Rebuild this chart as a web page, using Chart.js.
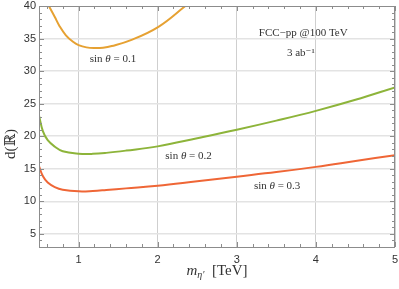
<!DOCTYPE html>
<html>
<head>
<meta charset="utf-8">
<script src="https://cdn.jsdelivr.net/npm/chart.js"></script>
<style>
  html, body { margin: 0; padding: 0; background: #fff; }
  canvas { display: block; }
</style>
</head>
<body>
<canvas id="chart" width="399" height="289"></canvas>
<script>
// values (x = m_eta' in TeV, y = d(R))
const massA = [0.60, 0.625, 0.70, 0.76, 0.84, 0.93, 1.00, 1.10, 1.20, 1.31, 1.42, 1.67, 2.01, 2.35, 2.40];
const distA = [40.6, 40.0, 38.3, 36.9, 35.5, 34.5, 34.0, 33.65, 33.55, 33.6, 33.85, 34.8, 36.8, 40.0, 40.5];

const massB = [0.50, 0.55, 0.61, 0.70, 0.80, 1.00, 1.18, 1.35, 1.60, 2.00, 2.50, 3.00, 3.50, 4.00, 4.50, 5.00];
const distB = [23.2, 20.75, 19.4, 18.4, 17.7, 17.33, 17.3, 17.45, 17.8, 18.45, 19.7, 21.0, 22.4, 23.9, 25.6, 27.5];

const massC = [0.50, 0.55, 0.61, 0.70, 0.80, 1.00, 1.18, 1.35, 1.60, 2.00, 2.50, 3.00, 3.50, 4.00, 4.50, 5.00];
const distC = [15.4, 13.85, 12.9, 12.2, 11.8, 11.55, 11.6, 11.75, 12.0, 12.4, 13.1, 13.8, 14.5, 15.3, 16.2, 17.1];

const seriesNames = ['sinθ = 0.1', 'sinθ = 0.2', 'sinθ = 0.3'];
const xTicks = [1, 2, 3, 4, 5];
const yTicks = [5, 10, 15, 20, 25, 30, 35, 40];

// in-plot labels, anchored in data units
const notes = [
  { runs: [['sin ', ''], ['θ', 'italic '], [' = 0.1', '']], x: 1.435, y: 31.9 },
  { runs: [['sin ', ''], ['θ', 'italic '], [' = 0.2', '']], x: 2.39, y: 17.0 },
  { runs: [['sin ', ''], ['θ', 'italic '], [' = 0.3', '']], x: 3.51, y: 12.3 },
  { runs: [['FCC−pp @100 TeV', '']], x: 3.84, y: 35.9 },
  { runs: [['3 ab⁻¹', '']], x: 3.81, y: 32.8 }
];

const SERIF = "'Liberation Serif', 'DejaVu Serif', serif";

function pts(xs, ys){
  return xs.map((x, i) => ({ x: x, y: ys[i] }));
}

function drawRuns(ctx, runs, cx, cy, size){
  let total = 0;
  runs.forEach(r => { ctx.font = r[1] + size + 'px ' + SERIF; total += ctx.measureText(r[0]).width; });
  let x = cx - total / 2;
  ctx.textBaseline = 'middle';
  ctx.textAlign = 'left';
  runs.forEach(r => {
    ctx.font = r[1] + size + 'px ' + SERIF;
    ctx.fillText(r[0], x, cy);
    x += ctx.measureText(r[0]).width;
  });
}

// frame, inward ticks on all four sides, notes and axis titles
const decorations = {
  id: 'decorations',
  afterDatasetsDraw(chart){
    const ctx = chart.ctx;
    const a = chart.chartArea;
    const xs = chart.scales.x, ys = chart.scales.y;
    ctx.save();
    ctx.strokeStyle = '#8c8c8c';
    ctx.lineWidth = 1;
    ctx.beginPath();
    for (let i = 3; i <= 25; i++) {
      const px = Math.round(xs.getPixelForValue(i / 5)) + 0.5;
      const len = i % 5 === 0 ? 5 : 3;
      ctx.moveTo(px, a.bottom); ctx.lineTo(px, a.bottom - len);
      ctx.moveTo(px, a.top); ctx.lineTo(px, a.top + len);
    }
    for (let v = 4; v <= 39; v++) {
      const py = Math.round(ys.getPixelForValue(v)) + 0.5;
      const len = v % 5 === 0 ? 5 : 3;
      ctx.moveTo(a.left, py); ctx.lineTo(a.left + len, py);
      ctx.moveTo(a.right, py); ctx.lineTo(a.right - len, py);
    }
    ctx.stroke();
    ctx.strokeRect(Math.round(a.left) + 0.5, Math.round(a.top) + 0.5,
      Math.round(a.right - a.left) - 1, Math.round(a.bottom - a.top));

    ctx.fillStyle = '#333';
    notes.forEach(n => {
      drawRuns(ctx, n.runs, xs.getPixelForValue(n.x), ys.getPixelForValue(n.y), 11);
    });

    // x title: m_eta' [TeV]
    const midX = (a.left + a.right) / 2;
    const baseY = a.bottom + 28;
    ctx.textBaseline = 'alphabetic';
    ctx.font = 'italic 15px ' + SERIF;
    const wM = ctx.measureText('m').width;
    ctx.font = 'italic 10px ' + SERIF;
    const wSub = ctx.measureText('η′').width;
    ctx.font = '15px ' + SERIF;
    const wTail = ctx.measureText('  [TeV]').width;
    let x0 = midX - (wM + wSub + wTail) / 2;
    ctx.font = 'italic 15px ' + SERIF;
    ctx.fillText('m', x0, baseY); x0 += wM;
    ctx.font = 'italic 10px ' + SERIF;
    ctx.fillText('η′', x0, baseY + 3); x0 += wSub;
    ctx.font = '15px ' + SERIF;
    ctx.fillText('  [TeV]', x0, baseY);

    // y title
    ctx.translate(11, 144);
    ctx.rotate(-Math.PI / 2);
    ctx.textAlign = 'center';
    ctx.textBaseline = 'middle';
    ctx.font = '15px ' + SERIF;
    ctx.fillText('d(ℝ)', 0, 0);
    ctx.restore();
  }
};

new Chart(document.getElementById('chart'), {
  type: 'line',
  data: {
    datasets: [
      { label: seriesNames[0], data: pts(massA, distA), borderColor: '#e6a132' },
      { label: seriesNames[1], data: pts(massB, distB), borderColor: '#8db43a' },
      { label: seriesNames[2], data: pts(massC, distC), borderColor: '#ef6636' }
    ].map(d => Object.assign(d, { borderWidth: 2, pointRadius: 0, fill: false, tension: 0.4 }))
  },
  options: {
    responsive: false,
    animation: false,
    devicePixelRatio: 1,
    layout: { padding: { left: 0, right: 4, top: 6, bottom: 0 } },
    plugins: { legend: { display: false }, tooltip: { enabled: false } },
    scales: {
      x: {
        type: 'linear', min: 0.5, max: 5,
        afterFit(scale){ scale.height = 42; scale.paddingLeft = 0; scale.paddingRight = 0; },
        afterBuildTicks(scale){ scale.ticks = xTicks.map(v => ({ value: v })); },
        grid: { color: '#cfcfcf', lineWidth: 1, drawTicks: false },
        border: { display: false },
        ticks: { padding: 6, color: '#333', font: { family: "'Liberation Sans', Arial, sans-serif", size: 11 }, maxRotation: 0 }
      },
      y: {
        type: 'linear', min: 3, max: 40,
        afterFit(scale){ scale.width = 39; scale.paddingTop = 0; scale.paddingBottom = 0; },
        afterBuildTicks(scale){ scale.ticks = yTicks.map(v => ({ value: v })); },
        grid: { color: ctx => ctx.tick && ctx.tick.value === 40 ? 'rgba(0,0,0,0)' : '#e3e3e3', lineWidth: 1.6, drawTicks: false },
        border: { display: false },
        ticks: { padding: 3, color: '#333', font: { family: "'Liberation Sans', Arial, sans-serif", size: 11 } }
      }
    }
  },
  plugins: [decorations]
});
</script>
</body>
</html>
